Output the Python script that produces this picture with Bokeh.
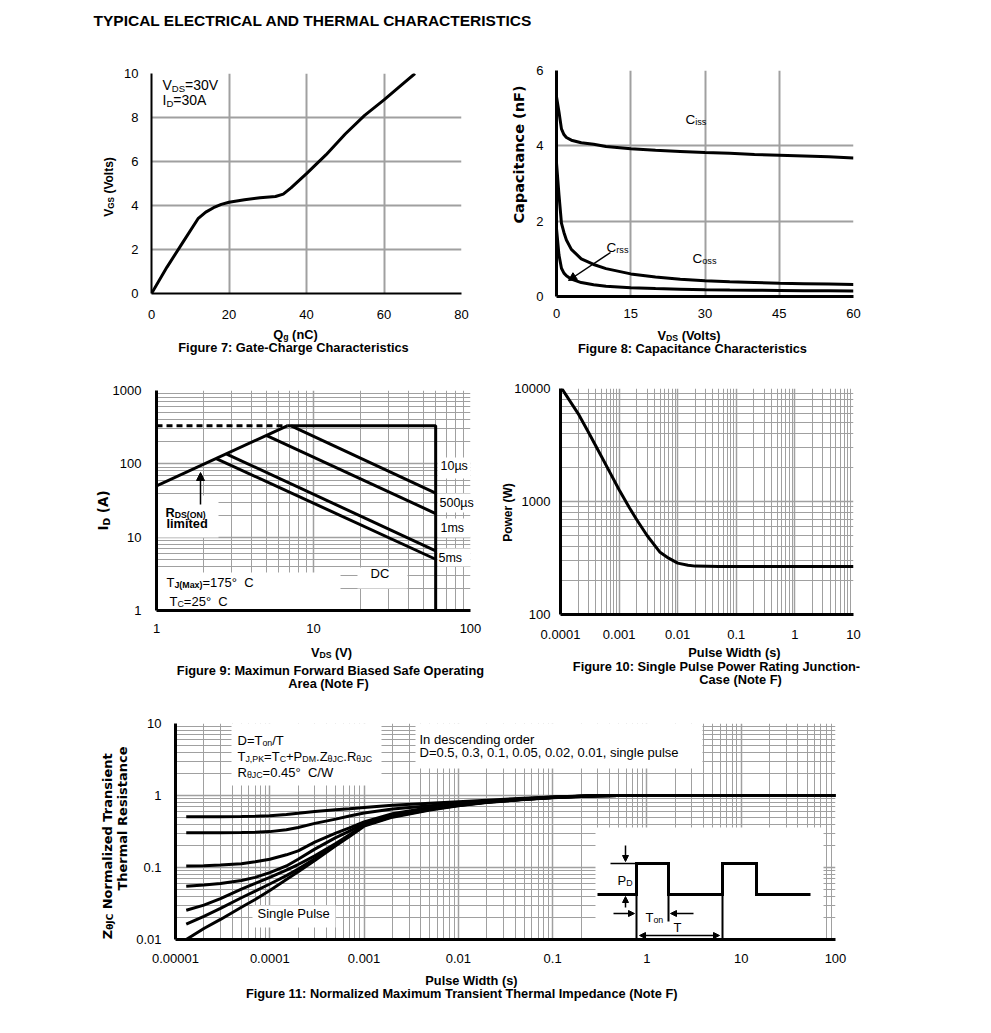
import math
from bokeh.plotting import figure
from bokeh.models import (Label, Arrow, NormalHead, Range1d, LinearScale, FixedTicker,
                          CustomJSTickFormatter, GridBox, Spacer)
from bokeh.layouts import column, row
from bokeh.embed import file_html
from bokeh.resources import INLINE

# ---------------- data ----------------
# Figure 7: gate charge
qg_nc = [0, 4, 8, 12, 14, 16, 18, 20, 24, 28, 32, 34, 36, 40, 45, 50, 55, 60, 65, 68]
vgs_v = [0, 1.2, 2.3, 3.4, 3.7, 3.9, 4.05, 4.15, 4.26, 4.35, 4.41, 4.52, 4.8, 5.45, 6.3, 7.25, 8.1, 8.8, 9.55, 10.0]

# Figure 8: capacitance
vds_cap = [0, 0.5, 1, 1.5, 2, 3, 5, 7.5, 10, 15, 20, 25, 30, 35, 40, 45, 50, 55, 60]
c_iss = [5.3, 4.9, 4.45, 4.3, 4.22, 4.15, 4.08, 4.04, 3.98, 3.92, 3.88, 3.85, 3.82, 3.8, 3.77, 3.75, 3.73, 3.71, 3.68]
c_oss = [3.55, 2.7, 1.95, 1.7, 1.5, 1.25, 1.0, 0.85, 0.74, 0.6, 0.52, 0.46, 0.42, 0.39, 0.37, 0.35, 0.34, 0.33, 0.32]
c_rss = [1.8, 1.1, 0.75, 0.62, 0.55, 0.46, 0.37, 0.31, 0.27, 0.23, 0.21, 0.195, 0.18, 0.17, 0.165, 0.16, 0.155, 0.15, 0.145]

# Figure 9: safe operating area
soa_rds_v = [1.0, 6.8]
soa_rds_a = [50, 330]
soa_lim_v = [6.8, 60, 60]
soa_lim_a = [330, 330, 1.0]
soa_dash_v = [1.0, 6.8]
soa_dash_a = [330, 330]
soa_10us_v = [7.2, 60]
soa_10us_a = [330, 40]
soa_500us_v = [5.0, 60]
soa_500us_a = [245, 21]
soa_1ms_v = [2.8, 60]
soa_1ms_a = [136, 6.5]
soa_5ms_v = [2.4, 60]
soa_5ms_a = [118, 5.0]

# Figure 10: single pulse power
pw_s = [0.000105, 0.0002, 0.0003, 0.0005, 0.0007, 0.001, 0.0015, 0.002, 0.003, 0.005, 0.007, 0.01, 0.015, 0.02, 0.05, 0.1, 1, 10]
pw_w = [10000, 6000, 4100, 2500, 1800, 1270, 880, 690, 500, 355, 315, 285, 273, 268, 266, 266, 266, 266]

# Figure 11: normalized transient thermal impedance
zt_s = [1.3e-5, 2e-5, 3e-5, 5e-5, 7e-5, 1e-4, 1.5e-4, 2e-4, 3e-4, 5e-4, 7e-4, 1e-3, 2e-3, 5e-3,
        1e-2, 2e-2, 5e-2, 0.1, 0.2, 0.3, 0.5, 1, 10, 100]
z_d05 = [0.506, 0.507, 0.508, 0.51, 0.515, 0.525, 0.545, 0.565, 0.6, 0.635, 0.655, 0.68, 0.73, 0.78,
         0.82, 0.86, 0.915, 0.955, 0.985, 0.995, 1.0, 1.0, 1.0, 1.0]
z_d03 = [0.303, 0.303, 0.304, 0.306, 0.309, 0.315, 0.335, 0.36, 0.41, 0.47, 0.52, 0.57, 0.65, 0.72,
         0.775, 0.835, 0.9, 0.95, 0.98, 0.995, 1.0, 1.0, 1.0, 1.0]
z_d01 = [0.105, 0.106, 0.108, 0.113, 0.12, 0.13, 0.15, 0.17, 0.225, 0.3, 0.355, 0.43, 0.56, 0.68,
         0.75, 0.82, 0.895, 0.945, 0.98, 0.995, 1.0, 1.0, 1.0, 1.0]
z_d005 = [0.055, 0.057, 0.060, 0.066, 0.073, 0.085, 0.105, 0.13, 0.18, 0.26, 0.32, 0.41, 0.54, 0.66,
          0.74, 0.815, 0.89, 0.94, 0.975, 0.99, 1.0, 1.0, 1.0, 1.0]
z_d002 = [0.0255, 0.030, 0.037, 0.050, 0.060, 0.073, 0.092, 0.11, 0.145, 0.215, 0.285, 0.39, 0.52, 0.65,
          0.73, 0.81, 0.89, 0.94, 0.975, 0.99, 1.0, 1.0, 1.0, 1.0]
z_d001 = [0.0163, 0.021, 0.027, 0.038, 0.047, 0.059, 0.077, 0.095, 0.132, 0.205, 0.275, 0.385, 0.51, 0.64,
          0.725, 0.805, 0.885, 0.935, 0.97, 0.99, 1.0, 1.0, 1.0, 1.0]
z_single = [0.0100, 0.0142, 0.019, 0.028, 0.036, 0.048, 0.068, 0.087, 0.125, 0.2, 0.27, 0.375, 0.5, 0.63,
            0.72, 0.8, 0.88, 0.93, 0.97, 0.99, 1.0, 1.0, 1.0, 1.0]

# ticks
f7_xt = [0, 20, 40, 60, 80]
f7_yt = [0, 2, 4, 6, 8, 10]
f8_xt = [0, 15, 30, 45, 60]
f8_yt = [0, 2, 4, 6]
f9_xt = [1, 10, 100]
f9_yt = [1, 10, 100, 1000]
f10_xt = [0.0001, 0.001, 0.01, 0.1, 1, 10]
f10_yt = [100, 1000, 10000]
f11_xt = [0.00001, 0.0001, 0.001, 0.01, 0.1, 1, 10, 100]
f11_yt = [0.01, 0.1, 1, 10]


def minors(lo, hi):
    return [m * 10.0 ** k for k in range(lo, hi) for m in range(2, 10)]


# ---------------- text metrics ----------------
NB = "\u00a0"
AR = dict(zip(" ()+,-./0123456789:=°µθ", [278, 333, 333, 584, 278, 333, 278, 278] + [556] * 10 + [278, 584, 400, 556, 556]))
AR.update(zip("ABCDEFGHIJKLMNOPQRSTUVWXYZ", [667, 667, 722, 722, 667, 611, 778, 722, 278, 500, 667, 556, 833, 722, 778, 667, 778, 722, 667, 611, 722, 667, 944, 667, 667, 611]))
AR.update(zip("abcdefghijklmnopqrstuvwxyz", [556, 556, 500, 556, 556, 278, 556, 556, 222, 222, 500, 222, 833, 556, 556, 556, 556, 333, 500, 278, 556, 500, 722, 500, 500, 500]))
ARB = dict(zip(" ()+,-./0123456789:=°µθ", [278, 333, 333, 584, 278, 333, 278, 278] + [556] * 10 + [333, 584, 400, 611, 611]))
ARB.update(zip("ABCDEFGHIJKLMNOPQRSTUVWXYZ", [722, 722, 722, 722, 667, 611, 778, 722, 278, 556, 722, 611, 833, 722, 778, 667, 778, 722, 667, 611, 722, 667, 944, 667, 667, 611]))
ARB.update(zip("abcdefghijklmnopqrstuvwxyz", [556, 611, 556, 611, 556, 333, 611, 611, 278, 278, 556, 278, 889, 611, 611, 611, 611, 389, 556, 333, 611, 556, 778, 556, 556, 500]))
DJB = {' ': 348, '(': 457, ')': 457, 'A': 774, 'C': 734, 'D': 830, 'F': 683, 'G': 821, 'I': 372, 'J': 372,
       'N': 837, 'R': 770, 'S': 720, 'T': 682, 'V': 774, 'W': 1103, 'Z': 725, 'a': 675, 'c': 593, 'd': 716,
       'e': 678, 'h': 712, 'i': 343, 'l': 343, 'm': 1042, 'n': 712, 'o': 687, 'p': 716, 'r': 493, 's': 595,
       't': 478, 'z': 582, 'θ': 687}
SUB = 0.68
BASE_FIX = 0.38   # measured shift of the rendered baseline, as a fraction of the font size
FONT = "Liberation Sans"
GRID = "#a0a0a0"
PAGE_W, PAGE_H = 983, 1020

# overlay figure that carries every text (centre annotations are clipped to the frame,
# so the texts live in a transparent page-sized figure laid over the charts)
ov = figure(width=PAGE_W, height=PAGE_H, x_range=Range1d(0, PAGE_W), y_range=Range1d(0, PAGE_H),
            x_axis_location=None, y_axis_location=None, output_backend="svg", toolbar_location=None,
            min_border_left=0, min_border_right=0, min_border_top=0, min_border_bottom=0,
            frame_align=False)
ov.grid.visible = False
ov.outline_line_color = None
ov.background_fill_color = None
ov.border_fill_color = None


def tw(s, size, table):
    return sum(table.get(" " if c == NB else c, 556) for c in s) * size / 1000.0


def lab(X, Y, text, size, bold=False, font=FONT, angle=0.0, color="black"):
    if text.startswith(" "):
        text = NB + text[1:]
    text = text.replace("  ", " " + NB)
    fix = BASE_FIX * size
    if angle:
        X -= fix
    else:
        Y -= fix
    ov.add_layout(Label(x=X, y=PAGE_H - Y, text=text, text_font=font, text_font_size=f"{size:.2f}px",
                        text_font_style="bold" if bold else "normal", angle=angle,
                        text_align="left", text_baseline="alphabetic", text_color=color))


def rich(X, Y, parts, size, bold=False, font=FONT, table=None, vertical=False, anchor="left"):
    items = []
    for part in parts:
        t, s = part[0], part[1]
        b = part[2] if len(part) > 2 else bold
        sz = size * SUB if s else size
        tb = table if (table is not None and b == bold) else (ARB if b else AR)
        items.append((t, s, b, sz, tw(t, sz, tb)))
    total = sum(it[4] for it in items)
    pos = {"left": 0.0, "center": -total / 2.0, "right": -total}[anchor]
    for t, s, b, sz, w in items:
        shift = size * 0.22 if s else 0.0
        if s:
            shift -= BASE_FIX * (size - sz)   # keep subscript offset relative to the main text
        if vertical:
            lab(X + shift, Y - pos, t, sz, b, font, angle=math.pi / 2)
        else:
            lab(X + pos, Y + shift, t, sz, b, font)
        pos += w


def box(p, fr, x0, x1, y0, y1):
    L, T, R, B = fr
    p.quad(left=x0 - L, right=x1 - L, top=B - y0, bottom=B - y1, x_range_name="px", y_range_name="py",
           fill_color="white", line_color=None)


def seg(p, fr, pts, w=3):
    L, T, R, B = fr
    p.line(x=[a - L for a, b in pts], y=[B - b for a, b in pts], x_range_name="px", y_range_name="py",
           line_color="black", line_width=w, line_join="miter")


def arrow(p, fr, x0, y0, x1, y1, both=False, size=7, w=1.5):
    L, T, R, B = fr
    head = lambda: NormalHead(size=size, fill_color="black", line_color="black", line_width=1)
    p.add_layout(Arrow(end=head(), start=head() if both else None,
                       x_start=x0 - L, y_start=B - y0, x_end=x1 - L, y_end=B - y1,
                       x_range_name="px", y_range_name="py", line_color="black", line_width=w))


def mk(canvas, fr, xr, yr, xtype="linear", ytype="linear"):
    cx, cy, cw, ch = canvas
    L, T, R, B = fr
    p = figure(width=cw, height=ch, x_range=Range1d(*xr), y_range=Range1d(*yr),
               x_axis_type=xtype, y_axis_type=ytype, output_backend="svg", toolbar_location=None,
               min_border_left=L - cx, min_border_right=cx + cw - R,
               min_border_top=T - cy, min_border_bottom=cy + ch - B, frame_align=False)
    p.extra_x_ranges = {"px": Range1d(0, R - L)}
    p.extra_y_ranges = {"py": Range1d(0, B - T)}
    p.extra_x_scales = {"px": LinearScale()}
    p.extra_y_scales = {"py": LinearScale()}
    p.outline_line_color = None
    p.background_fill_color = "white"
    p.border_fill_color = "white"
    return p


def style(p, xt, yt, xs, ys, aw=3, xminor=None, yminor=None, log=False, gw=1.5, mw=1.0):
    xtk = FixedTicker(ticks=xt, minor_ticks=xminor or [])
    ytk = FixedTicker(ticks=yt, minor_ticks=yminor or [])
    p.xaxis.ticker = xtk
    p.yaxis.ticker = ytk
    p.xgrid.ticker = xtk
    p.ygrid.ticker = ytk
    if log:
        code = "return Number(tick.toPrecision(6)).toString();"
        p.xaxis.formatter = CustomJSTickFormatter(code=code)
        p.yaxis.formatter = CustomJSTickFormatter(code=code)
    for ax in (p.xaxis[0], p.yaxis[0]):
        ax.major_tick_line_color = None
        ax.minor_tick_line_color = None
        ax.major_tick_out = 0
        ax.major_tick_in = 0
        ax.minor_tick_out = 0
        ax.minor_tick_in = 0
        ax.axis_line_color = "black"
        ax.axis_line_width = aw
        ax.major_label_text_font = FONT
        ax.major_label_text_font_size = "13px"
        ax.major_label_text_color = "black"
    p.xaxis.major_label_standoff = xs
    p.yaxis.major_label_standoff = ys
    p.grid.grid_line_color = GRID
    p.grid.grid_line_width = gw
    if xminor or yminor:
        p.grid.minor_grid_line_color = GRID
        p.grid.minor_grid_line_width = mw


# ---------------- title ----------------
rich(93, 26, [("TYPICAL ELECTRICAL AND THERMAL CHARACTERISTICS", 0)], 15.5, bold=True)

# ---------------- figure 7 ----------------
F7 = (151, 73, 461, 293)
p7 = mk((0, 45, 500, 325), F7, (0, 80), (0, 10))
style(p7, f7_xt, f7_yt, xs=16, ys=13, aw=2, gw=2)
p7.line(qg_nc, vgs_v, line_color="black", line_width=3)
rich(162, 90, [("V", 0), ("DS", 1), ("=30V", 0)], 14)
rich(162, 105, [("I", 0), ("D", 1), ("=30A", 0)], 14)
rich(295, 339, [("Q", 0), ("g", 1), (" (nC)", 0)], 12.8, bold=True, anchor="center")
rich(293, 352, [("Figure 7: Gate-Charge Characteristics", 0)], 12.8, bold=True, anchor="center")
rich(113, 186, [("V", 0), ("GS", 1), (" (Volts)", 0)], 12, bold=True, vertical=True, anchor="center")

# ---------------- figure 8 ----------------
F8 = (556, 70, 853, 296)
p8 = mk((500, 45, 483, 325), F8, (0, 60), (0, 6))
style(p8, f8_xt, f8_yt, xs=12, ys=13, aw=3, gw=2)
p8.line(vds_cap, c_iss, line_color="black", line_width=3)
p8.line(vds_cap, c_oss, line_color="black", line_width=3)
p8.line(vds_cap, c_rss, line_color="black", line_width=3)
rich(685, 124, [("C", 0), ("iss", 1)], 13.5)
rich(606, 252, [("C", 0), ("rss", 1)], 13.5)
rich(692, 263, [("C", 0), ("oss", 1)], 13.5)
arrow(p8, F8, 610, 252, 568, 280, size=8)
rich(689, 340, [("V", 0), ("DS", 1), (" (Volts)", 0)], 12.8, bold=True, anchor="center")
rich(692, 352.5, [("Figure 8: Capacitance Characteristics", 0)], 12.8, bold=True, anchor="center")
rich(524, 154, [("Capacitance (nF)", 0)], 14.5, bold=True, font="DejaVu Sans", table=DJB,
     vertical=True, anchor="center")

# ---------------- figure 9 ----------------
F9 = (156, 390, 470, 610)
p9 = mk((0, 370, 500, 330), F9, (1, 100), (1, 1000), "log", "log")
style(p9, f9_xt, f9_yt, xs=13, ys=15, aw=3, xminor=minors(0, 2), yminor=minors(0, 3), log=True)
box(p9, F9, 156, 218, 495, 537)
box(p9, F9, 156, 340, 572, 609)
box(p9, F9, 357, 407, 567, 588)
box(p9, F9, 437, 470, 457, 478)
box(p9, F9, 437, 470, 493, 512)
box(p9, F9, 437, 470, 518, 537)
box(p9, F9, 437, 470, 548, 566)
p9.line(soa_dash_v, soa_dash_a, line_color="black", line_width=3, line_dash="6 4")
p9.line(soa_rds_v, soa_rds_a, line_color="black", line_width=3)
p9.line(soa_lim_v, soa_lim_a, line_color="black", line_width=3)
p9.line(soa_10us_v, soa_10us_a, line_color="black", line_width=3)
p9.line(soa_500us_v, soa_500us_a, line_color="black", line_width=3)
p9.line(soa_1ms_v, soa_1ms_a, line_color="black", line_width=3)
p9.line(soa_5ms_v, soa_5ms_a, line_color="black", line_width=3)
arrow(p9, F9, 200, 504, 200, 472, size=8)
rich(165, 517, [("R", 0), ("DS(ON)", 1)], 12.8, bold=True)
rich(166, 528, [("limited", 0)], 12.8, bold=True)
rich(166, 587, [("T", 0), ("J(Max)", 1, True), ("=175°  C", 0)], 13)
rich(169, 606, [("T", 0), ("C", 1), ("=25°  C", 0)], 13)
rich(370, 578, [("DC", 0)], 13)
rich(440, 470, [("10µs", 0)], 12.5)
rich(439, 507, [("500µs", 0)], 12.5)
rich(440, 532, [("1ms", 0)], 12.5)
rich(438, 562, [("5ms", 0)], 12.5)
rich(331, 657, [("V", 0), ("DS", 1), (" (V)", 0)], 12.8, bold=True, anchor="center")
rich(330, 675, [("Figure 9: Maximun Forward Biased Safe Operating", 0)], 12.8, bold=True, anchor="center")
rich(328, 688, [("Area (Note F)", 0)], 12.8, bold=True, anchor="center")
rich(108, 510, [("I", 0), ("D", 1), (" (A)", 0)], 13.5, bold=True, font="DejaVu Sans", table=DJB,
     vertical=True, anchor="center")

# ---------------- figure 10 ----------------
F10 = (560, 388, 853, 614)
p10 = mk((500, 370, 483, 330), F10, (0.0001, 10), (100, 10000), "log", "log")
style(p10, f10_xt, f10_yt, xs=15, ys=10, aw=3, xminor=minors(-4, 1), yminor=minors(2, 4), log=True)
p10.line(pw_s, pw_w, line_color="black", line_width=3)
rich(734, 657, [("Pulse Width (s)", 0)], 12.8, bold=True, anchor="center")
rich(716, 671, [("Figure 10: Single Pulse Power Rating Junction-", 0)], 12.8, bold=True, anchor="center")
rich(740, 684, [("Case (Note F)", 0)], 12.8, bold=True, anchor="center")
rich(512, 512, [("Power (W)", 0)], 12, bold=True, vertical=True, anchor="center")

# ---------------- figure 11 ----------------
F11 = (175, 723, 835, 939)
p11 = mk((0, 700, 983, 320), F11, (0.00001, 100), (0.01, 10), "log", "log")
style(p11, f11_xt, f11_yt, xs=14, ys=14, aw=3, xminor=minors(-5, 2), yminor=minors(-2, 1), log=True)
box(p11, F11, 231, 381, 723, 785)
box(p11, F11, 415, 702, 723, 768)
box(p11, F11, 252, 335, 905, 927)
box(p11, F11, 595, 823, 827, 939)
for zz in (z_d05, z_d03, z_d01, z_d005, z_d002, z_d001, z_single):
    p11.line(zt_s, zz, line_color="black", line_width=3)
rich(237, 745, [("D=T", 0), ("on", 1), ("/T", 0)], 13)
rich(237, 761, [("T", 0), ("J,PK", 1), ("=T", 0), ("C", 1), ("+P", 0), ("DM", 1), (".Z", 0),
                ("θJC", 1), (".R", 0), ("θJC", 1)], 13)
rich(237, 777, [("R", 0), ("θJC", 1), ("=0.45°  C/W", 0)], 13)
rich(419, 744, [("In descending order", 0)], 13)
rich(419, 757, [("D=0.5, 0.3, 0.1, 0.05, 0.02, 0.01, single pulse", 0)], 13)
rich(257, 918, [("Single Pulse", 0)], 13)
# inset: pulse diagram
seg(p11, F11, [(597, 894), (636, 894), (636, 863), (668, 863), (668, 894), (722, 894), (722, 863),
               (756, 863), (756, 894), (810, 894)], 3)
seg(p11, F11, [(636, 894), (636, 945)], 2)
seg(p11, F11, [(722, 894), (722, 945)], 2)
seg(p11, F11, [(668, 894), (668, 921)], 2)
seg(p11, F11, [(610, 863), (636, 863)], 1.5)
arrow(p11, F11, 625, 845, 625, 861, size=6)
arrow(p11, F11, 625, 907, 625, 896, size=6)
arrow(p11, F11, 613, 913, 634, 913, size=6)
arrow(p11, F11, 693, 913, 670, 913, size=6)
arrow(p11, F11, 639, 935, 719, 935, both=True, size=6)
rich(617, 885, [("P", 0), ("D", 1)], 13)
rich(645, 922, [("T", 0), ("on", 1)], 13)
rich(673, 932, [("T", 0)], 13)
rich(471, 985, [("Pulse Width (s)", 0)], 12.8, bold=True, anchor="center")
rich(462, 998, [("Figure 11: Normalized Maximum Transient Thermal Impedance (Note F)", 0)], 12.8,
     bold=True, anchor="center")
rich(112, 845, [("Z", 0), ("θJC", 1), (" Normalized Transient", 0)], 13, bold=True,
     font="DejaVu Sans", table=DJB, vertical=True, anchor="center")
rich(127, 818, [("Thermal Resistance", 0)], 13, bold=True, font="DejaVu Sans", table=DJB,
     vertical=True, anchor="center")

charts = column(Spacer(width=PAGE_W, height=45), row(p7, p8), row(p9, p10), p11)
layout = GridBox(children=[(charts, 0, 0), (ov, 0, 0)])
open("out.html", "w").write(file_html(layout, INLINE, "Typical characteristics"))
